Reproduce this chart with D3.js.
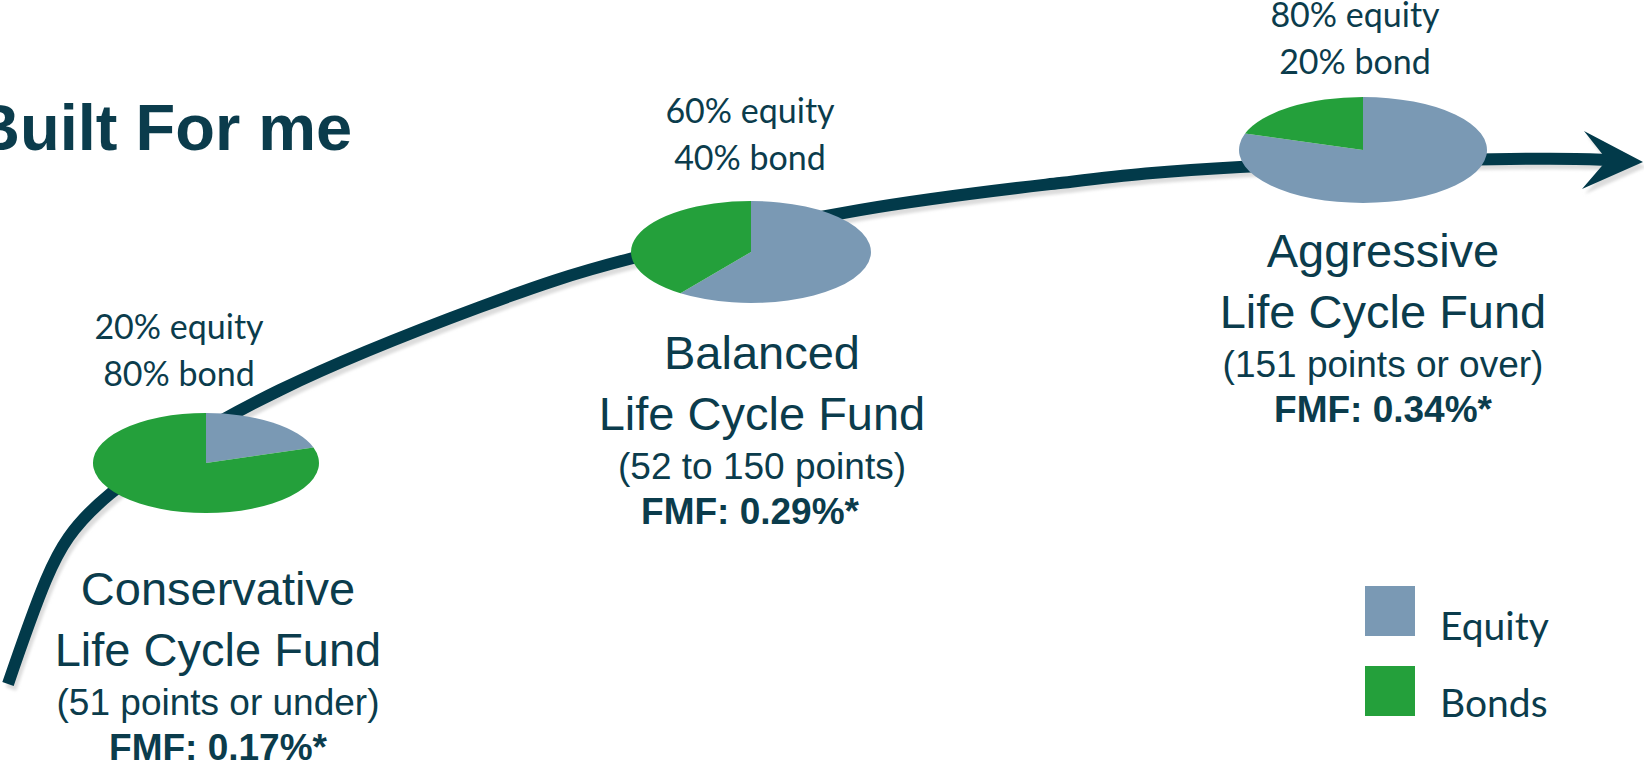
<!DOCTYPE html>
<html>
<head>
<meta charset="utf-8">
<script src="https://cdn.jsdelivr.net/npm/d3@7"></script>
<style>
  body { margin: 0; background: #fff; overflow: hidden; }
  svg { display: block; }
  .sans { font-family: "Liberation Sans", Arial, sans-serif; fill: #0b3c4c; }
  .cal { font-family: Lato, "Open Sans", sans-serif; fill: #0b3c4c; }
</style>
</head>
<body>
<svg id="chart"></svg>
<script>
// Fund data
const funds = ['Conservative', 'Balanced', 'Aggressive'];
const equityPct = [20, 60, 80];
const bondPct = [80, 40, 20];
const pointRanges = ['(51 points or under)', '(52 to 150 points)', '(151 points or over)'];
const fmf = ['0.17%', '0.29%', '0.34%'];
const legendLabels = ['Equity', 'Bonds'];
const colors = ['#7a99b4', '#24a03b'];

// Layout (pixel positions of each group)
const pieLayout = [
  {cx: 206, cy: 463, rx: 113, ry: 50},
  {cx: 751, cy: 252, rx: 120, ry: 51},
  {cx: 1363, cy: 150, rx: 124, ry: 53}
];
const pctLabelPos = [{x: 179, y: 339}, {x: 750, y: 123}, {x: 1355, y: 27}];
const nameLabelPos = [{x: 218, y: 605}, {x: 762, y: 369}, {x: 1383, y: 267}];
const fmfX = [218, 750, 1383];

// centre line of the swoosh arrow
const swoosh = [
  [8, 684], [46, 580], [110, 494], [280, 390], [480, 307],
  [633, 258], [860, 210], [1060, 183], [1240, 167], [1510, 159], [1607, 160]
];
const arrowHead = [[1643, 162], [1584, 131], [1607, 160], [1582, 189]];

const width = 1644, height = 765;
const svg = d3.select('#chart').attr('width', width).attr('height', height);

const defs = svg.append('defs');
defs.append('filter').attr('id', 'blur')
  .append('feGaussianBlur').attr('stdDeviation', 1.5);

const line = d3.line().curve(d3.curveNatural);

// shadow first
const shadow = svg.append('g')
    .attr('transform', 'translate(3,5)')
    .attr('filter', 'url(#blur)');
shadow.append('path')
    .attr('d', line(swoosh))
    .attr('fill', 'none')
    .attr('stroke', '#dcdcdc')
    .attr('stroke-width', 11);
shadow.append('path')
    .attr('d', d3.line()(arrowHead) + 'Z')
    .attr('fill', '#dcdcdc');

svg.append('path')
    .attr('d', line(swoosh))
    .attr('fill', 'none')
    .attr('stroke', '#023a4a')
    .attr('stroke-width', 12);
svg.append('path')
    .attr('d', d3.line()(arrowHead) + 'Z')
    .attr('fill', '#023a4a');

// Title
svg.append('text')
    .attr('class', 'sans')
    .attr('x', -27)
    .attr('y', 150)
    .style('font-size', '65px')
    .style('font-weight', 'bold')
    .text('Built For me');

// Pies, drawn as flat ellipses
const pie = d3.pie().sort(null);
const arc = d3.arc().innerRadius(0).outerRadius(1);

funds.forEach((f, i) => {
  const p = pieLayout[i];
  const g = svg.append('g')
      .attr('transform', `translate(${p.cx},${p.cy}) scale(${p.rx},${p.ry})`);
  g.selectAll('path')
      .data(pie([equityPct[i], bondPct[i]]))
    .join('path')
      .attr('d', arc)
      .attr('fill', (d, j) => colors[j]);

  // percentage labels above the pie
  const pl = pctLabelPos[i];
  svg.append('text').attr('class', 'cal')
      .attr('x', pl.x).attr('y', pl.y)
      .attr('text-anchor', 'middle')
      .style('font-size', '34px')
      .text(`${equityPct[i]}% equity`);
  svg.append('text').attr('class', 'cal')
      .attr('x', pl.x).attr('y', pl.y + 47)
      .attr('text-anchor', 'middle')
      .style('font-size', '34px')
      .text(`${bondPct[i]}% bond`);

  // fund name block
  const nl = nameLabelPos[i];
  const rows = [
    {t: f, x: nl.x, dy: 0, size: 47, w: 'normal'},
    {t: 'Life Cycle Fund', x: nl.x, dy: 61, size: 47, w: 'normal'},
    {t: pointRanges[i], x: nl.x, dy: 110, size: 37, w: 'normal'},
    {t: `FMF: ${fmf[i]}*`, x: fmfX[i], dy: 155, size: 37, w: 'bold'}
  ];
  svg.selectAll(null)
      .data(rows)
    .join('text')
      .attr('class', 'sans')
      .attr('x', d => d.x)
      .attr('y', d => nl.y + d.dy)
      .attr('text-anchor', 'middle')
      .style('font-size', d => d.size + 'px')
      .style('font-weight', d => d.w)
      .text(d => d.t);
});

// Legend
const legend = svg.append('g').attr('transform', 'translate(1365,586)');
legend.selectAll('rect')
    .data(legendLabels)
  .join('rect')
    .attr('x', 0)
    .attr('y', (d, i) => i * 80)
    .attr('width', 50)
    .attr('height', 50)
    .attr('fill', (d, i) => colors[i]);
legend.selectAll('text')
    .data(legendLabels)
  .join('text')
    .attr('class', 'cal')
    .attr('x', 75)
    .attr('y', (d, i) => 54 + i * 77)
    .style('font-size', '39px')
    .text(d => d);
</script>
</body>
</html>
